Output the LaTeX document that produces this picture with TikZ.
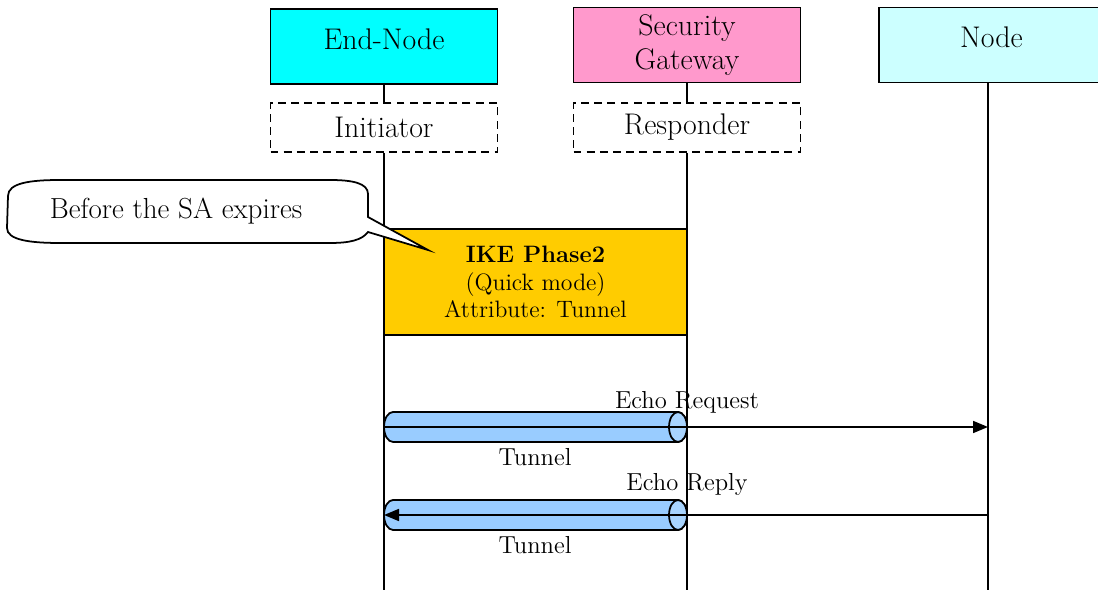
\documentclass[tikz,border=0pt]{standalone}
\usepackage{tikz}
\usetikzlibrary{arrows.meta,shapes.geometric,positioning}

\definecolor{endcyan}{RGB}{0,255,255}
\definecolor{gwpink}{RGB}{255,153,204}
\definecolor{nodecyan}{RGB}{204,255,255}
\definecolor{ikegold}{RGB}{255,204,0}
\definecolor{tunnelblue}{RGB}{153,204,255}

\begin{document}
\begin{tikzpicture}[x=0.02cm,y=-0.02cm,line width=1pt,
    font=\fontsize{17}{19}\selectfont,
    actor/.style={draw,minimum width=4.54cm,minimum height=1.5cm,align=center,inner sep=0pt},
    role/.style={draw,dash pattern=on 4.5pt off 3pt,minimum width=4.54cm,minimum height=0.98cm,inner sep=0pt},
    pipeend/.style={x radius=0.18cm,y radius=0.3cm},
    msg/.style={font=\fontsize{14}{16}\selectfont},
    arr/.style={-{Triangle[length=0.3cm,width=0.24cm]}}]
    \useasboundingbox (0,0) rectangle (1098,590);

    \node[actor,fill=endcyan,text depth=0.3cm] (endnode) at (384,46.5) {End-Node};
    \node[actor,fill=gwpink] (gateway) at (687,45) {Security\\Gateway};
    \node[actor,fill=nodecyan,text depth=0.3cm,minimum width=4.5cm] (node) at (991.5,45) {Node};
    \node[role] (initiator) at (384,127.5) {Initiator};
    \node[role] (responder) at (687,127.5) {Responder};

    \coordinate (endbottom) at (384,590);
    \coordinate (gwbottom) at (687,590);
    \coordinate (nodebottom) at (988,590);
    \draw (endnode) -- (initiator);
    \draw (gateway) -- (responder);
    \draw (initiator) -- (endbottom);
    \draw (responder) -- (gwbottom);
    \draw (node.south -| nodebottom) -- (nodebottom);

    \node[draw,fill=ikegold,minimum width=6.06cm,minimum height=2.12cm,align=center,
        font=\fontsize{13.5}{15.5}\selectfont] (ike) at (535.5,282)
        {\textbf{IKE Phase2}\\(Quick mode)\\Attribute: Tunnel};

    \draw[fill=white] (8,196) .. controls (8,183) and (30,180) .. (60,180) -- (330,180)
        .. controls (352,180) and (368,183) .. (368,194) -- (368,217) -- (428,250) -- (368,232)
        .. controls (362,240) and (350,243) .. (330,243) -- (60,243)
        .. controls (30,243) and (7,240) .. (7,228) -- cycle;
    \node[font=\fontsize{16.5}{19}\selectfont] (note) at (176,211) {Before the SA expires};

    \foreach \ty in {427,515} {
        \draw[fill=tunnelblue] (678,\ty-15) -- (393,\ty-15) arc[start angle=90,end angle=270,pipeend]
            -- (678,\ty+15) arc[start angle=-90,end angle=90,pipeend] -- cycle;
        \draw[fill=tunnelblue!85!white] (678,\ty) ellipse[pipeend];
    }

    \node[msg] (tunnellabel1) at (535,457) {Tunnel};
    \node[msg] (request) at (687,402) {Echo Request};
    \coordinate (reqfrom) at (384,427);
    \coordinate (reqto) at (988,427);
    \draw[arr] (reqfrom) -- (reqto);

    \node[msg] (tunnellabel2) at (535,545) {Tunnel};
    \node[msg] (reply) at (687,484) {Echo Reply};
    \coordinate (repfrom) at (988,515);
    \coordinate (repto) at (384,515);
    \draw[arr] (repfrom) -- (repto);
\end{tikzpicture}
\end{document}
